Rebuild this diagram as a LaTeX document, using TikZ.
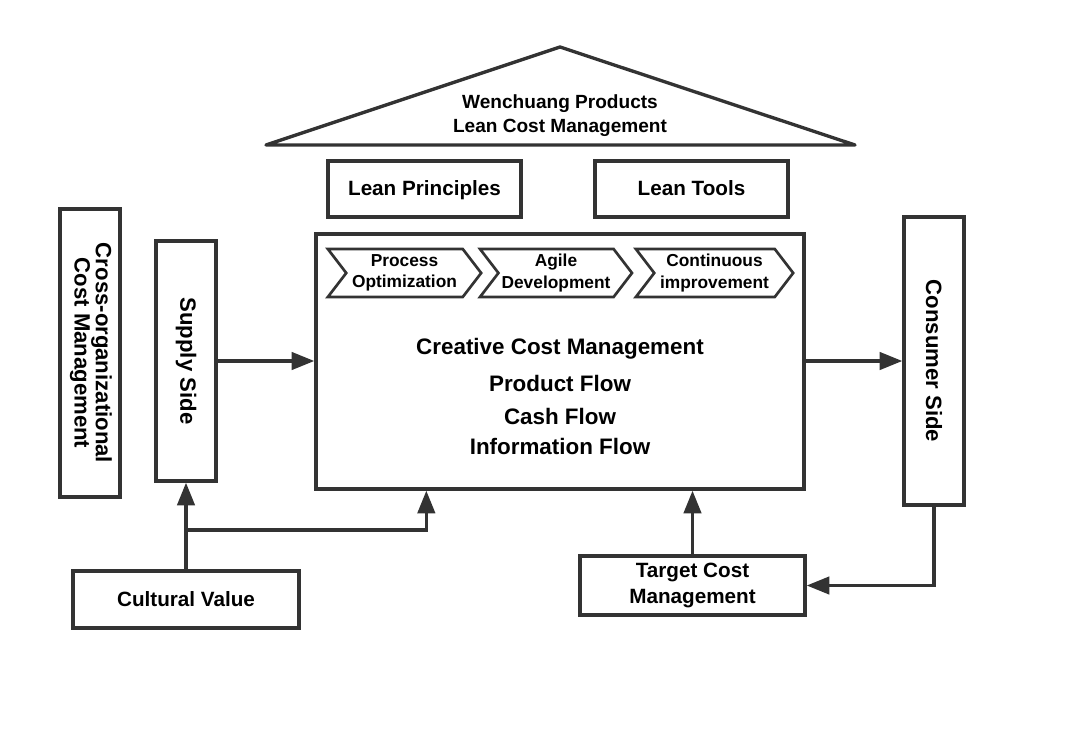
\documentclass[tikz,border=0pt]{standalone}
\usepackage{fontspec}
\setmainfont{Liberation Sans}
\usepackage{graphicx}
\usetikzlibrary{arrows.meta,shapes.symbols}
\definecolor{linegray}{HTML}{333333}
\begin{document}
\begin{tikzpicture}[x=0.75pt,y=-0.75pt,
        box/.style={draw=linegray,line width=2.5pt,fill=white,align=center,inner sep=0pt,
            font=\fontsize{15.5}{19.5}\selectfont\bfseries},
        topbox/.style={box,minimum width=144.75pt,minimum height=42pt,text height=1em,text depth=0pt},
        sidebox/.style={box,minimum width=45pt,font=\fontsize{16.6}{18}\selectfont\bfseries},
        chev/.style={signal,signal to=east,signal from=west,signal pointer angle=105,
            draw=linegray,line width=2pt,align=center,inner sep=0pt,minimum height=36pt,
            font=\fontsize{13}{16}\selectfont\bfseries},
        flowtext/.style={font=\fontsize{16.8}{20}\selectfont\bfseries},
        flow/.style={draw=linegray,line width=2.5pt,-{Triangle[length=17pt,width=13pt]}}]
    \useasboundingbox (0,0) rectangle (1066,734);

    % roof
    \draw[draw=linegray,line width=2.5pt,line join=round] (266,145) -- (560,47) -- (855,145) -- cycle;
    \node[align=center,font=\fontsize{14.3}{18}\selectfont\bfseries] (roof) at (560,116)
        {Wenchuang Products\\Lean Cost Management};

    \node[topbox] (principles) at (424.5,189) {Lean Principles};
    \node[topbox] (tools) at (691.5,189) {Lean Tools};

    % main house body
    \node[box,minimum width=366pt,minimum height=191.25pt] (main) at (560,361.5) {};
    \node[chev,minimum width=115pt] (c1) at (404.5,273) {Process\\Optimization};
    \node[chev,minimum width=114pt] (c2) at (556,273) {Agile\\Development};
    \node[chev,minimum width=118pt] (c3) at (714.5,273) {Continuous\\improvement};
    \node[flowtext] (creative) at (560,349) {Creative Cost Management};
    \node[flowtext] (product) at (560,383) {Product Flow};
    \node[flowtext] (cash) at (560,416) {Cash Flow};
    \node[flowtext] (info) at (560,446) {Information Flow};

    % sides
    \node[sidebox,minimum height=216pt] (crossorg) at (90,353)
        {\rotatebox{-90}{\begin{tabular}{@{}c@{}}Cross-organizational\\[-2pt]Cost Management\end{tabular}}};
    \node[sidebox,minimum height=180pt] (supply) at (186,361) {\rotatebox{-90}{Supply Side}};
    \node[sidebox,minimum height=216pt] (consumer) at (934,361) {\rotatebox{-90}{Consumer Side}};

    \node[box,minimum width=169.5pt,minimum height=42.75pt] (culture) at (186,599.5) {Cultural Value};
    \node[box,minimum width=168.75pt,minimum height=44.25pt] (target) at (692.5,585.5)
        {Target Cost\\Management};

    \coordinate (branch) at (186,530);

    \draw[flow] (supply.east) -- (supply.east -| main.west);
    \draw[flow] (main.east |- consumer.west) -- (consumer.west);
    \draw[flow] (culture.north) -- (supply.south);
    \draw[flow] (branch) -| ([xshift=84pt]main.south west);
    \draw[flow] (target.north) -- (target.north |- main.south);
    \draw[flow] (consumer.south) |- (target.east);
\end{tikzpicture}
\end{document}
